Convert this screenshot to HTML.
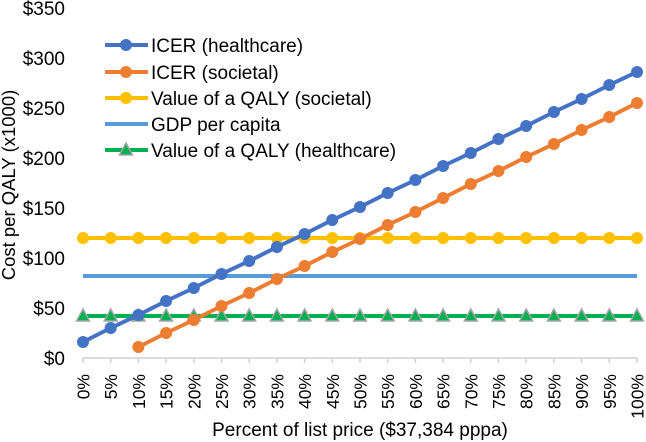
<!DOCTYPE html>
<html><head><meta charset="utf-8"><style>
body{margin:0;background:#fff}
svg{display:block;font-family:"Liberation Sans",Arial,sans-serif}
</style></head><body>
<svg id="c" width="646" height="442"></svg>
<script>
const categories=["0%","5%","10%","15%","20%","25%","30%","35%","40%","45%","50%","55%","60%","65%","70%","75%","80%","85%","90%","95%","100%"];
const icerHealthcare=[16,30,43,57,70,84,97,111,124,138,151,165,178,192,205,219,232,246,259,273,286];
const icerSocietal=[null,null,11,25,38,52,65,79,92,106,119,133,146,160,174,187,201,214,228,241,255];
const qalySocietal=Array(21).fill(120);
const gdpPerCapita=Array(21).fill(82);
const qalyHealthcare=Array(21).fill(42);
const yTicks=[0,50,100,150,200,250,300,350];
const yTickLabels=["$0","$50","$100","$150","$200","$250","$300","$350"];
const legendLabels=["ICER (healthcare)","ICER (societal)","Value of a QALY (societal)","GDP per capita","Value of a QALY (healthcare)"];

const NS="http://www.w3.org/2000/svg";
const svg=document.getElementById('c');
const x0=83,x1=637,yBase=358,yTop=8;
const xS=i=>x0+i*(x1-x0)/(categories.length-1);
const yS=v=>yBase-v*(yBase-yTop)/350;
function mk(t,a,p){const e=document.createElementNS(NS,t);for(const k in a)e.setAttribute(k,a[k]);(p||svg).appendChild(e);return e;}

yTicks.forEach((v,i)=>{
  const t=mk('text',{x:65,y:yS(v)+7,'text-anchor':'end','font-size':19,fill:'#000'});
  t.textContent=yTickLabels[i];
  
  
});
const ax=mk('line',{x1:x0,x2:x1,y1:yBase,y2:yBase,stroke:'#d0d0d0','stroke-width':1.5});


categories.forEach((c,i)=>{
  const tk=mk('line',{x1:xS(i),x2:xS(i),y1:yBase,y2:yBase+5,stroke:'#d0d0d0','stroke-width':1.5});
  
  
  const t=mk('text',{x:0,y:0,'text-anchor':'end','font-size':17.5,fill:'#000',transform:`translate(${xS(i)+6.5},374) rotate(-90)`});
  t.textContent=c;
  
  
});
const xt=mk('text',{x:360,y:436,'text-anchor':'middle','font-size':19,fill:'#000'});
xt.textContent="Percent of list price ($37,384 pppa)";


const yt=mk('text',{x:0,y:0,'text-anchor':'middle','font-size':18.5,fill:'#000',transform:'translate(15,185) rotate(-90)'});
yt.textContent="Cost per QALY (x1000)";



const series=[
 {d:qalySocietal,c:'#ffc000',m:'circle',n:'series-qaly-societal'},
 {d:gdpPerCapita,c:'#5b9bd5',m:null,n:'series-gdp-per-capita'},
 {d:qalyHealthcare,c:'#00b050',m:'tri',n:'series-qaly-healthcare'},
 {d:icerSocietal,c:'#ed7d31',m:'circle',n:'series-icer-societal'},
 {d:icerHealthcare,c:'#4472c4',m:'circle',n:'series-icer-healthcare'}
];
function marker(g,m,c,x,y){
  if(m==='circle'){const e=mk('circle',{cx:x,cy:y,r:6,fill:c},g);}
  else if(m==='tri'){const e=mk('polygon',{points:`${x},${y-7} ${x-6.5},${y+5} ${x+6.5},${y+5}`,fill:'#00b050',stroke:'#a5a5a5','stroke-width':1.5},g);}
}
series.forEach(s=>{
  const g=mk('g',{});
  
  
  let pts=[];
  s.d.forEach((v,i)=>{if(v!=null)pts.push(xS(i)+','+yS(v));});
  const l=mk('polyline',{points:pts.join(' '),fill:'none',stroke:s.c,'stroke-width':4},g);
  
  
  if(s.m)s.d.forEach((v,i)=>{if(v!=null)marker(g,s.m,s.c,xS(i),yS(v));});
});

const lc=[['#4472c4','circle'],['#ed7d31','circle'],['#ffc000','circle'],['#5b9bd5',null],['#00b050','tri']];
const ly=[45,72,98,124,150];
legendLabels.forEach((lab,i)=>{
  const g=mk('g',{});
  
  
  mk('line',{x1:105,x2:148,y1:ly[i],y2:ly[i],stroke:lc[i][0],'stroke-width':4},g);
  if(lc[i][1])marker(g,lc[i][1],lc[i][0],126,ly[i]);
  const t=mk('text',{x:151,y:ly[i]+7,'font-size':19,fill:'#000'},g);
  t.textContent=lab;
});
</script>
</body></html>
